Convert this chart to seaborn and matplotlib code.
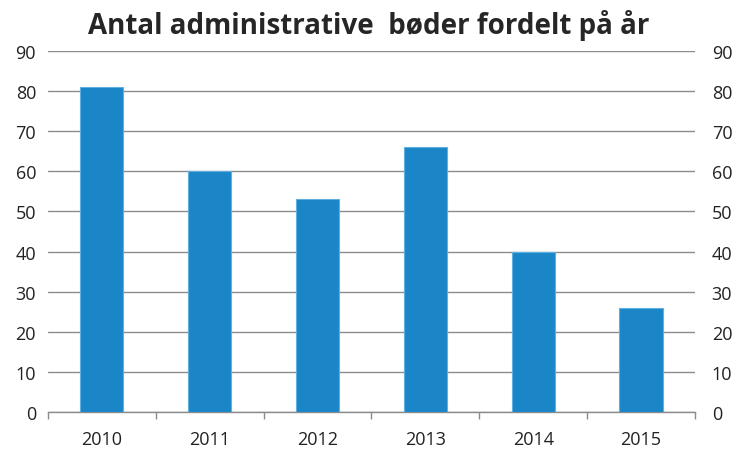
import matplotlib
matplotlib.use("Agg")
import matplotlib.pyplot as plt
import seaborn as sns
import pandas as pd

years = ["2010", "2011", "2012", "2013", "2014", "2015"]
counts = [81, 60, 53, 66, 40, 26]
yticks = [0, 10, 20, 30, 40, 50, 60, 70, 80, 90]
title = "Antal administrative  bøder fordelt på år"

sns.set_theme(style="white")
plt.rcParams['font.family'] = ['Open Sans', 'DejaVu Sans']

df = pd.DataFrame({"year": years, "count": counts})
fig = plt.figure(figsize=(7.37, 4.52), dpi=100)
ax = fig.add_axes([0.065, 0.086, 0.878, 0.799])
sns.barplot(data=df, x="year", y="count", color="#1a86c8", saturation=1,
            width=0.4, edgecolor="#5fb0e0", linewidth=0.8, ax=ax, zorder=3)
ax.set_ylim(0, 90)
ax.set_xlim(-0.5, len(years) - 0.5)
ax.set_yticks(yticks)
ax.yaxis.grid(True, color="#8c8c8c", linewidth=1.0, zorder=0)
ax.set_axisbelow(True)
ax.set_xlabel("")
ax.set_ylabel("")
for s in ["top", "left", "right"]:
    ax.spines[s].set_visible(False)
ax.spines["bottom"].set_color("#8c8c8c")
ax.spines["bottom"].set_linewidth(1.0)
ax.set_xticks([i - 0.5 for i in range(len(years) + 1)], minor=True)
ax.tick_params(axis="x", which="minor", bottom=True, length=5, color="#8c8c8c", width=1)
ax.tick_params(axis="x", which="major", bottom=False, length=0, labelsize=13, colors="#222222", pad=13)
ax.tick_params(axis="y", left=False, length=0, labelsize=13, colors="#222222", pad=8.5)

ax2 = ax.twinx()
ax2.set_ylim(0, 90)
ax2.set_yticks(yticks)
for s in ["top", "left", "right", "bottom"]:
    ax2.spines[s].set_visible(False)
ax2.tick_params(axis="y", right=False, length=0, labelsize=13, colors="#222222", pad=12)

fig.suptitle(title, fontsize=20, fontweight="bold", y=0.978, x=0.5)
fig.savefig("out.png", dpi=100)
